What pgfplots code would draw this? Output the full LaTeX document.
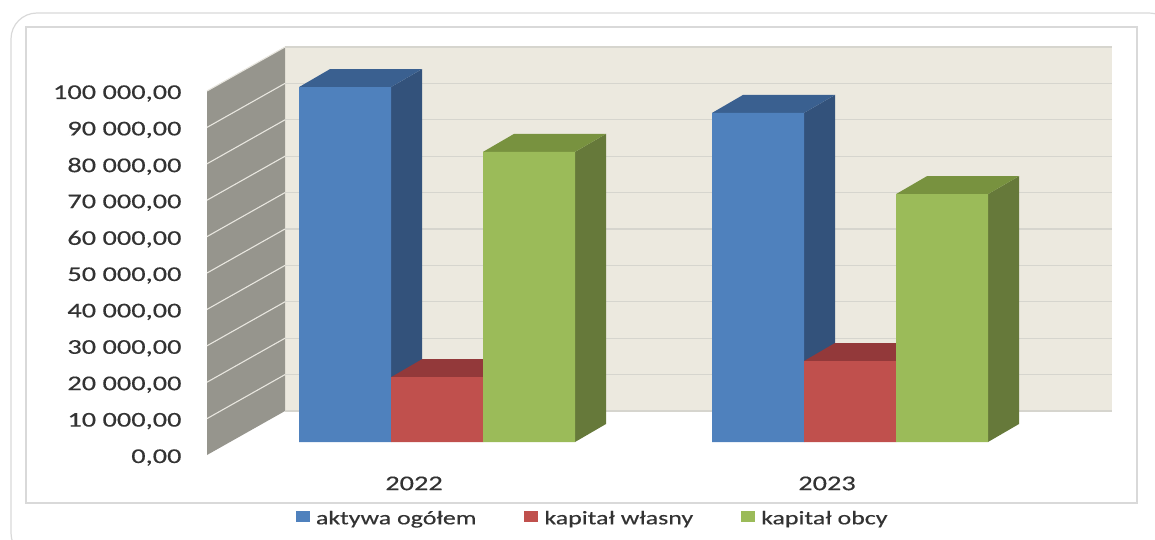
\documentclass[border=0pt]{standalone}
\usepackage{pgfplots}
\pgfplotsset{compat=1.18}
\usepackage{fontspec}
\setmainfont[FakeStretch=1.35,FakeBold=0.4]{Carlito}
\definecolor{txt}{HTML}{333333}
\definecolor{frame}{HTML}{D9D9D9}
\definecolor{wallback}{HTML}{ECE9DF}
\definecolor{wallleft}{HTML}{96958D}
\definecolor{gridb}{HTML}{D6D5CE}
\definecolor{gridl}{HTML}{E8E6DF}
\definecolor{bluef}{HTML}{4F81BD}
\definecolor{bluet}{HTML}{3A6090}
\definecolor{blues}{HTML}{33527B}
\definecolor{redf}{HTML}{C0504D}
\definecolor{redt}{HTML}{93393A}
\definecolor{reds}{HTML}{7F3331}
\definecolor{greenf}{HTML}{9BBB59}
\definecolor{greent}{HTML}{78923F}
\definecolor{greens}{HTML}{66793A}
\begin{document}
\begin{tikzpicture}[x=1pt,y=1pt]
\useasboundingbox (0,0) rectangle (1155,539);
\begin{scope}
\clip (0,0) rectangle (1155,539);
\draw[frame,line width=1.2pt,rounded corners=26pt] (11,526) rectangle (1175,-20);
\end{scope}
\draw[frame,line width=1.2pt] (26,36) rectangle (1137,512);
\begin{axis}[
  at={(207pt,84pt)}, anchor=south west,
  scale only axis, width=905pt, height=409pt,
  xmin=207, xmax=1112, ymin=0, ymax=112362,
  clip=false,
  axis line style={draw=none},
  axis x line*=bottom, axis y line*=left,
  major tick style={draw=none},
  xtick={414,827}, xticklabels={2022,2023},
  ytick={0,10000,...,100000},
  scaled y ticks=false,
  tick label style={font=\fontsize{21}{25}\selectfont, text=txt},
  yticklabel style={/pgf/number format/.cd,fixed,fixed zerofill,precision=2,1000 sep={\ },dec sep={,},assume math mode=true,/tikz/.cd,anchor=east,xshift=-22pt,yshift=-2.5pt},
  xticklabel style={yshift=-18pt},
  legend columns=3,
  legend style={at={(0.0983,-0.155)},anchor=west,draw=none,fill=none,inner sep=0pt,outer sep=0pt,
    font=\fontsize{19.2}{23}\selectfont, text=txt,
    /tikz/column 1/.style={column sep=4pt},
    /tikz/column 2/.style={column sep=46pt},
    /tikz/column 3/.style={column sep=4pt},
    /tikz/column 4/.style={column sep=46pt},
    /tikz/column 5/.style={column sep=4pt}},
  barfx/.style={xshift=23pt,yshift=13pt},
  face/.style={fill=#1,draw=none,xshift=23pt,yshift=13pt,forget plot},
]
% walls
\addplot[fill=wallback,draw=none,forget plot] coordinates {(285,12088)(285,112088)(1112,112088)(1112,12088)};
\addplot[fill=wallleft,draw=none,forget plot] coordinates {(207,0)(207,100000)(285,112088)(285,12088)};
\addplot[gridb,line width=1.1pt,forget plot] coordinates {(285,12088)(1112,12088)};
\addplot[gridb,line width=1.1pt,forget plot] coordinates {(285,22088)(1112,22088)};
\addplot[gridb,line width=1.1pt,forget plot] coordinates {(285,32088)(1112,32088)};
\addplot[gridb,line width=1.1pt,forget plot] coordinates {(285,42088)(1112,42088)};
\addplot[gridb,line width=1.1pt,forget plot] coordinates {(285,52088)(1112,52088)};
\addplot[gridb,line width=1.1pt,forget plot] coordinates {(285,62088)(1112,62088)};
\addplot[gridb,line width=1.1pt,forget plot] coordinates {(285,72088)(1112,72088)};
\addplot[gridb,line width=1.1pt,forget plot] coordinates {(285,82088)(1112,82088)};
\addplot[gridb,line width=1.1pt,forget plot] coordinates {(285,92088)(1112,92088)};
\addplot[gridb,line width=1.1pt,forget plot] coordinates {(285,102088)(1112,102088)};
\addplot[gridb,line width=1.1pt,forget plot] coordinates {(285,112088)(1112,112088)};
\addplot[gridl,line width=1.1pt,forget plot] coordinates {(207,10000)(285,22088)};
\addplot[gridl,line width=1.1pt,forget plot] coordinates {(207,20000)(285,32088)};
\addplot[gridl,line width=1.1pt,forget plot] coordinates {(207,30000)(285,42088)};
\addplot[gridl,line width=1.1pt,forget plot] coordinates {(207,40000)(285,52088)};
\addplot[gridl,line width=1.1pt,forget plot] coordinates {(207,50000)(285,62088)};
\addplot[gridl,line width=1.1pt,forget plot] coordinates {(207,60000)(285,72088)};
\addplot[gridl,line width=1.1pt,forget plot] coordinates {(207,70000)(285,82088)};
\addplot[gridl,line width=1.1pt,forget plot] coordinates {(207,80000)(285,92088)};
\addplot[gridl,line width=1.1pt,forget plot] coordinates {(207,90000)(285,102088)};
\addplot[gridl,line width=1.1pt,forget plot] coordinates {(207,100000)(285,112088)};
% blue
\addplot[face=blues] coordinates {(368,0)(368,97500)(399,102445)(399,4945)};
\addplot[face=bluet] coordinates {(276,97500)(368,97500)(399,102445)(307,102445)};
\addplot[face=blues] coordinates {(781,0)(781,90400)(812,95345)(812,4945)};
\addplot[face=bluet] coordinates {(689,90400)(781,90400)(812,95345)(720,95345)};
\addplot[ybar,bar width=92pt,bar shift=-92pt,fill=bluef,draw=none,barfx,
  legend image code/.code={\path[fill=bluef] (0pt,-16.5pt) rectangle (14pt,-5.5pt);}]
  coordinates {(414,97500)(827,90400)};
\addlegendentry{aktywa ogółem}
% red
\addplot[face=reds] coordinates {(460,0)(460,17800)(491,22745)(491,4945)};
\addplot[face=redt] coordinates {(368,17800)(460,17800)(491,22745)(399,22745)};
\addplot[face=reds] coordinates {(873,0)(873,22250)(904,27195)(904,4945)};
\addplot[face=redt] coordinates {(781,22250)(873,22250)(904,27195)(812,27195)};
\addplot[ybar,bar width=92pt,bar shift=0pt,fill=redf,draw=none,barfx,
  legend image code/.code={\path[fill=redf] (0pt,-16.5pt) rectangle (14pt,-5.5pt);}]
  coordinates {(414,17800)(827,22250)};
\addlegendentry{kapitał własny}
% green
\addplot[face=greens] coordinates {(552,0)(552,79700)(583,84645)(583,4945)};
\addplot[face=greent] coordinates {(460,79700)(552,79700)(583,84645)(491,84645)};
\addplot[face=greens] coordinates {(965,0)(965,68100)(996,73045)(996,4945)};
\addplot[face=greent] coordinates {(873,68100)(965,68100)(996,73045)(904,73045)};
\addplot[ybar,bar width=92pt,bar shift=92pt,fill=greenf,draw=none,barfx,
  legend image code/.code={\path[fill=greenf] (0pt,-16.5pt) rectangle (14pt,-5.5pt);}]
  coordinates {(414,79700)(827,68100)};
\addlegendentry{kapitał obcy}
\end{axis}
\end{tikzpicture}
\end{document}
